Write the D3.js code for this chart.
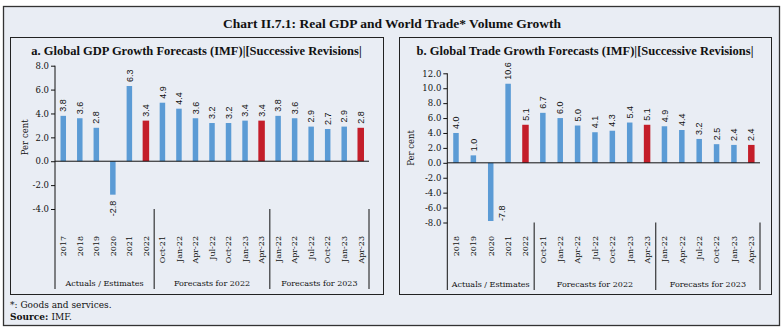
<!DOCTYPE html>
<html>
<head>
<meta charset="utf-8">
<script src="https://cdn.jsdelivr.net/npm/d3@7"></script>
<style>
  body { margin: 0; background: #fff; }
  svg text { fill: #111; }
</style>
</head>
<body>
<svg id="chart" width="784" height="332"></svg>
<script>
// data
const groupNames = ['Actuals / Estimates', 'Forecasts for 2022', 'Forecasts for 2023'];

const gdpCats = ['2017', '2018', '2019', '2020', '2021', '2022',
  'Oct-21', 'Jan-22', 'Apr-22', 'Jul-22', 'Oct-22', 'Jan-23', 'Apr-23',
  'Jan-22', 'Apr-22', 'Jul-22', 'Oct-22', 'Jan-23', 'Apr-23'];
const gdpVals = [3.8, 3.6, 2.8, -2.8, 6.3, 3.4,
  4.9, 4.4, 3.6, 3.2, 3.2, 3.4, 3.4,
  3.8, 3.6, 2.9, 2.7, 2.9, 2.8];
const gdpGroupSizes = [6, 7, 6];
const gdpTicks = [-4, -2, 0, 2, 4, 6, 8];

const tradeCats = ['2018', '2019', '2020', '2021', '2022',
  'Oct-21', 'Jan-22', 'Apr-22', 'Jul-22', 'Oct-22', 'Jan-23', 'Apr-23',
  'Jan-22', 'Apr-22', 'Jul-22', 'Oct-22', 'Jan-23', 'Apr-23'];
const tradeVals = [4.0, 1.0, -7.8, 10.6, 5.1,
  6.7, 6.0, 5.0, 4.1, 4.3, 5.4, 5.1,
  4.9, 4.4, 3.2, 2.5, 2.4, 2.4];
const tradeGroupSizes = [5, 7, 6];
const tradeTicks = [-8, -6, -4, -2, 0, 2, 4, 6, 8, 10, 12];

const blue = '#5b9bd5', red = '#c41e2a', bg = '#e9edf4';
const serif = '"Liberation Serif", "DejaVu Serif", serif';
const wideSerif = '"DejaVu Serif", serif';
const sans = '"Liberation Sans", Arial, sans-serif';

const svg = d3.select('#chart');

// outer frame + main title
svg.append('rect')
  .attr('x', 3.5).attr('y', 6.5).attr('width', 776).attr('height', 319)
  .attr('fill', bg).attr('stroke', '#333').attr('stroke-width', 1.3);

svg.append('text')
  .attr('x', 392).attr('y', 28)
  .attr('text-anchor', 'middle')
  .style('font-family', serif).style('font-weight', 'bold').style('font-size', '13.5px')
  .text('Chart II.7.1: Real GDP and World Trade* Volume Growth');

function drawPanel(cfg) {
  const g = svg.append('g');

  g.append('rect')
    .attr('x', cfg.box[0] + 0.5).attr('y', cfg.box[1] + 0.5)
    .attr('width', cfg.box[2] - cfg.box[0]).attr('height', cfg.box[3] - cfg.box[1])
    .attr('fill', bg).attr('stroke', '#222').attr('stroke-width', 1);

  g.append('text')
    .attr('x', (cfg.box[0] + cfg.box[2]) / 2).attr('y', cfg.box[1] + 18)
    .attr('text-anchor', 'middle')
    .style('font-family', serif).style('font-weight', 'bold').style('font-size', '12.5px')
    .text(cfg.title);

  const x = d3.scaleBand()
    .domain(d3.range(cfg.cats.length))
    .range([cfg.x0, cfg.x1])
    .padding(0);
  const y = d3.scaleLinear()
    .domain(d3.extent(cfg.ticks))
    .range([cfg.yBottom, cfg.yTop]);

  // y axis
  const yAxis = g.append('g')
    .attr('transform', 'translate(' + cfg.x0 + ',0)')
    .call(d3.axisLeft(y).tickValues(cfg.ticks).tickSize(4).tickPadding(2)
      .tickFormat(d => d.toFixed(1)));
  yAxis.select('.domain').remove();
  yAxis.selectAll('line').attr('stroke', '#111');
  yAxis.selectAll('text')
    .style('font-family', wideSerif).style('font-size', '8.5px').attr('fill', '#111');

  g.append('text')
    .attr('transform', 'translate(' + cfg.yLabelX + ',' + (cfg.yTop + cfg.yBottom) / 2 + ') rotate(-90)')
    .attr('text-anchor', 'middle')
    .style('font-family', wideSerif).style('font-size', '8.5px')
    .text('Per cent');

  // which bar closes its group -> red
  const ends = Array.from(d3.cumsum(cfg.groupSizes));
  const isLast = i => ends.includes(i + 1);

  const bw = i => isLast(i) ? 6.5 : 5.5;
  g.selectAll('.bar')
    .data(cfg.vals)
    .join('rect')
    .attr('class', 'bar')
    .attr('x', (d, i) => x(i) + x.bandwidth() / 2 - bw(i) / 2)
    .attr('width', (d, i) => bw(i))
    .attr('y', d => y(Math.max(0, d)))
    .attr('height', d => Math.abs(y(d) - y(0)))
    .attr('fill', (d, i) => isLast(i) ? red : blue);

  // zero line
  g.append('line')
    .attr('x1', cfg.x0).attr('x2', cfg.x1)
    .attr('y1', y(0)).attr('y2', y(0))
    .attr('stroke', '#111').attr('stroke-width', 1);

  // axis line running down into the group divider
  g.append('line')
    .attr('x1', cfg.x0).attr('x2', cfg.x0)
    .attr('y1', y(d3.max(cfg.ticks))).attr('y2', cfg.divBottom)
    .attr('stroke', '#111');

  // group dividers
  const bounds = ends.map(e => e === cfg.cats.length ? cfg.x1 : x(e));
  g.selectAll('.div')
    .data(bounds)
    .join('line')
    .attr('class', 'div')
    .attr('x1', d => d).attr('x2', d => d)
    .attr('y1', y(d3.min(cfg.ticks))).attr('y2', cfg.divBottom)
    .attr('stroke', '#111');

  const starts = [cfg.x0].concat(bounds.slice(0, -1));
  g.selectAll('.grp')
    .data(groupNames)
    .join('text')
    .attr('class', 'grp')
    .attr('x', (d, i) => (starts[i] + bounds[i]) / 2)
    .attr('y', cfg.divBottom - 3)
    .attr('text-anchor', 'middle')
    .style('font-family', wideSerif).style('font-size', '8px')
    .text(d => d);

  // category labels
  g.selectAll('.cat')
    .data(cfg.cats)
    .join('text')
    .attr('class', 'cat')
    .attr('transform', (d, i) => 'translate(' + (x(i) + x.bandwidth() / 2) + ',' + cfg.catTop + ') rotate(-90)')
    .attr('dy', '0.35em')
    .attr('text-anchor', 'end')
    .style('font-family', wideSerif).style('font-size', '8px')
    .text(d => d);

  // value labels
  g.selectAll('.val')
    .data(cfg.vals)
    .join('text')
    .attr('class', 'val')
    .each(function (d, i) {
      const cx = x(i) + x.bandwidth() / 2;
      const t = d3.select(this);
      if (d >= 0) {
        t.attr('transform', 'translate(' + cx + ',' + (y(d) - 4) + ') rotate(-90)')
          .attr('text-anchor', 'start');
      } else if (y(d) + 30 < cfg.catTop) {
        t.attr('transform', 'translate(' + cx + ',' + (y(d) + 6) + ') rotate(-90)')
          .attr('text-anchor', 'end');
      } else {
        // no room below: set beside the bar
        t.attr('transform', 'translate(' + (cx + 11) + ',' + y(d) + ') rotate(-90)')
          .attr('text-anchor', 'start');
      }
    })
    .attr('dy', '0.35em')
    .style('font-family', sans).style('font-size', '9px').attr('fill', '#222')
    .text(d => d.toFixed(1));
}

drawPanel({
  box: [10, 37, 383, 294],
  title: 'a. Global GDP Growth Forecasts (IMF)|[Successive Revisions|',
  cats: gdpCats, vals: gdpVals, groupSizes: gdpGroupSizes, ticks: gdpTicks,
  x0: 55, x1: 369, yTop: 65.7, yBottom: 209, yLabelX: 28,
  catTop: 236, divBottom: 289
});

drawPanel({
  box: [399, 37, 771, 294],
  title: 'b. Global Trade Growth Forecasts (IMF)|[Successive Revisions|',
  cats: tradeCats, vals: tradeVals, groupSizes: tradeGroupSizes, ticks: tradeTicks,
  x0: 447.3, x1: 760, yTop: 73.3, yBottom: 222.5, yLabelX: 414,
  catTop: 236, divBottom: 290
});

// footnotes
svg.append('text')
  .attr('x', 10).attr('y', 308)
  .style('font-family', wideSerif).style('font-size', '9px')
  .text('*: Goods and services.');
const src = svg.append('text')
  .attr('x', 10).attr('y', 320)
  .style('font-family', wideSerif).style('font-size', '9px');
src.append('tspan').style('font-weight', 'bold').text('Source: ');
src.append('tspan').text('IMF.');
</script>
</body>
</html>
